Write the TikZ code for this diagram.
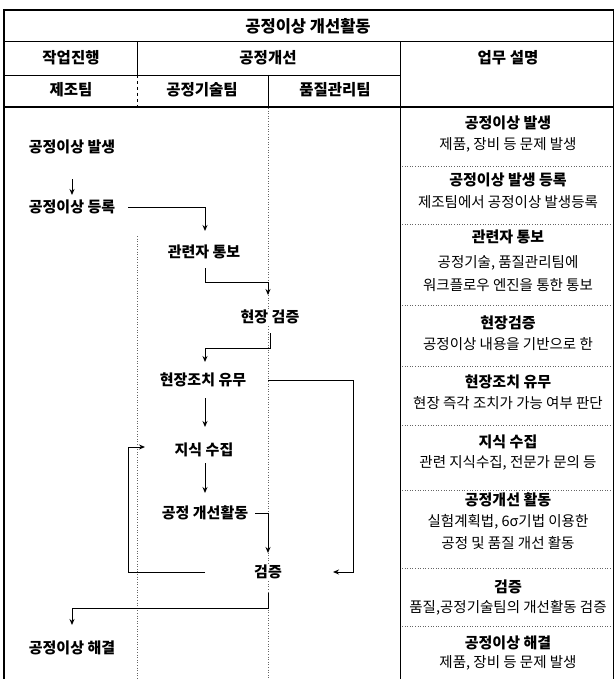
\documentclass[tikz,border=0pt]{standalone}
\usepackage{fontspec}
\setmainfont{Noto Sans CJK KR}
\usetikzlibrary{arrows.meta,calc}
\begin{document}
\begin{tikzpicture}[x=1pt,y=-1pt,
  lbl/.style={font=\fontsize{15}{17}\selectfont\bfseries, inner sep=1pt, fill=white},
  hdr/.style={font=\fontsize{15.5}{17}\selectfont\bfseries, inner sep=0pt},
  ttl/.style={font=\fontsize{16.5}{18}\selectfont\bfseries, inner sep=0pt},
  rtitle/.style={font=\fontsize{15}{17}\selectfont\bfseries, inner sep=0pt},
  rdesc/.style={font=\fontsize{14.5}{16}\selectfont, inner sep=0pt},
  arr/.style={line width=1pt, -{Stealth[length=6pt,width=5pt]}},
  conn/.style={line width=1pt},
  frame/.style={line width=1.2pt},
  grid/.style={line width=0.7pt},
  dots/.style={line width=0.6pt, dotted, black!60},
  sep/.style={line width=0.6pt, dotted, black!60}
]
\useasboundingbox (0,0) rectangle (615,679);

% ---------- frame and header ----------
\draw[frame] (3,10) -- (614,10);
\draw[line width=2.4pt] (4,10) -- (4,679);
\draw[line width=0.8pt] (613.5,10) -- (613.5,679);
\draw[line width=1pt] (4,42) -- (614,42);
\draw[grid] (4,75) -- (400,75);
\draw[grid] (137,42) -- (137,75);
\draw[grid, dashed] (137,75) -- (137,107);
\draw[grid] (268,75) -- (268,107);
\draw[grid] (400,42) -- (400,679);
\draw[line width=2pt] (4,107) -- (614,107);

\node[ttl] (title) at (308,26) {공정이상 개선활동};
\node[hdr] (h1) at (71,58) {작업진행};
\node[hdr] (h2) at (268,58) {공정개선};
\node[hdr] (h3) at (508,58) {업무 설명};
\node[hdr] (h4) at (71,90) {제조팀};
\node[hdr] (h5) at (202,90) {공정기술팀};
\node[hdr] (h6) at (335,90) {품질관리팀};

% ---------- lane guides ----------
\draw[dots] (268,108) -- (268,679);
\draw[dots] (137,236) -- (137,679);

% ---------- flow nodes ----------
\node[lbl] (n1) at (72,147) {공정이상 발생};
\node[lbl] (n2) at (72,207) {공정이상 등록};
\node[lbl] (n3) at (204,252) {관련자 통보};
\node[lbl] (n4) at (270,317) {현장 검증};
\node[lbl] (n5) at (203,380) {현장조치 유무};
\node[lbl] (n6) at (204,450) {지식 수집};
\node[lbl] (n7) at (205,513) {공정 개선활동};
\node[lbl] (n8) at (268,572) {검증};
\node[lbl] (n9) at (72,648) {공정이상 해결};

% ---------- connectors ----------
\draw[arr] ($(n1)+(0,32)$) -- ($(n2)+(0,-12)$);
\draw[arr] ($(n2)+(56,0)$) -| ($(n3)+(1,-21)$);
\draw[arr] ($(n3)+(1,16)$) |- ($(n4)+(-2,-35)$) -- ($(n4)+(-2,-22)$);
\draw[arr] ($(n4)+(0,16)$) |- ($(n5)+(2,-32)$) -- ($(n5)+(2,-18)$);
\coordinate (rt) at ($(n5)+(150,0)$);
\draw[arr] ($(n5)+(65,0)$) -- (rt) |- ($(n8)+(65,0)$);
\draw[arr] ($(n5)+(2,18)$) -- ($(n6)+(1,-23)$);
\draw[arr] ($(n6)+(1,13)$) -- ($(n7)+(0,-20)$);
\draw[arr] ($(n7)+(50,0)$) -| ($(n8)+(0,-19)$);
\coordinate (lp) at ($(n8)+(-140,0)$);
\draw[arr] ($(n8)+(-63,0)$) -- (lp) |- ($(n6)+(-59,-3)$);
\draw[arr] ($(n8)+(0,21)$) |- ($(n9)+(0,-40)$) -- ($(n9)+(0,-23)$);

% ---------- description panel ----------
\foreach \yy in {166,224,305,366,425,490,568,626}
  \draw[sep] (402,\yy) -- (612,\yy);

\node[rtitle] (r1t) at (508,123) {공정이상 발생};
\node[rdesc]  (r1d) at (508,145) {제품, 장비 등 문제 발생};
\node[rtitle] (r2t) at (508,180) {공정이상 발생 등록};
\node[rdesc]  (r2d) at (508,202) {제조팀에서 공정이상 발생등록};
\node[rtitle] (r3t) at (508,237) {관련자 통보};
\node[rdesc]  (r3d) at (508,263) {공정기술, 품질관리팀에};
\node[rdesc]  (r3e) at (508,285) {워크플로우 엔진을 통한 통보};
\node[rtitle] (r4t) at (508,323) {현장검증};
\node[rdesc]  (r4d) at (508,344) {공정이상 내용을 기반으로 한};
\node[rtitle] (r5t) at (508,382) {현장조치 유무};
\node[rdesc]  (r5d) at (508,403) {현장 즉각 조치가 가능 여부 판단};
\node[rtitle] (r6t) at (508,442) {지식 수집};
\node[rdesc]  (r6d) at (508,463) {관련 지식수집, 전문가 문의 등};
\node[rtitle] (r7t) at (508,500) {공정개선 활동};
\node[rdesc]  (r7d) at (508,522) {실험계획법, 6σ기법 이용한};
\node[rdesc]  (r7e) at (508,543) {공정 및 품질 개선 활동};
\node[rtitle] (r8t) at (508,587) {검증};
\node[rdesc]  (r8d) at (508,608) {품질,공정기술팀의 개선활동 검증};
\node[rtitle] (r9t) at (508,643) {공정이상 해결};
\node[rdesc]  (r9d) at (508,663) {제품, 장비 등 문제 발생};
\end{tikzpicture}
\end{document}
